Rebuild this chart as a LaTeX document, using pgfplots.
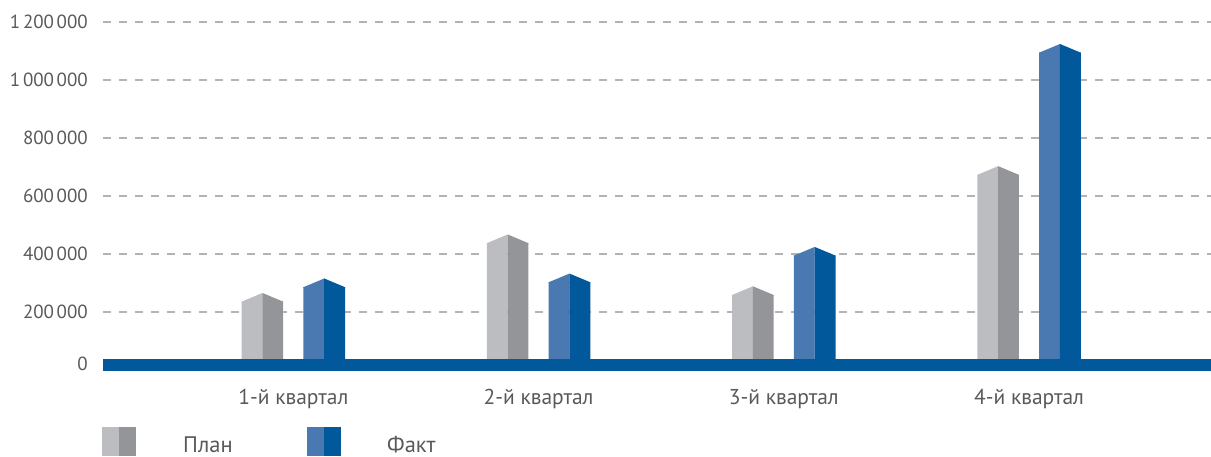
\documentclass[border=0pt]{standalone}
\usepackage{pgfplots}
\pgfplotsset{compat=1.18}
\usepackage{pgfplotstable}
\usepackage{fontspec}
\setmainfont{PT Sans}
\definecolor{planL}{HTML}{BCBDC1}
\definecolor{planD}{HTML}{939598}
\definecolor{faktL}{HTML}{4A79B1}
\definecolor{faktD}{HTML}{01589B}
\definecolor{gridc}{HTML}{B3B3B3}
\definecolor{txt}{HTML}{595959}
\pgfplotstableread{
x plan fakt
1 234000 284000
2 436000 301000
3 257000 393000
4 672000 1094000
}\data
\pgfdeclareplotmark{roofL}{%
 \pgfpathmoveto{\pgfqpoint{-20.8pt}{-0.6pt}}%
 \pgfpathlineto{\pgfqpoint{-20.8pt}{0pt}}%
 \pgfpathlineto{\pgfqpoint{0pt}{8.7pt}}%
 \pgfpathlineto{\pgfqpoint{0pt}{-0.6pt}}%
 \pgfpathclose\pgfusepathqfill}
\pgfdeclareplotmark{roofR}{%
 \pgfpathmoveto{\pgfqpoint{20.8pt}{-0.6pt}}%
 \pgfpathlineto{\pgfqpoint{20.8pt}{0pt}}%
 \pgfpathlineto{\pgfqpoint{0pt}{8.7pt}}%
 \pgfpathlineto{\pgfqpoint{0pt}{-0.6pt}}%
 \pgfpathclose\pgfusepathqfill}
\begin{document}
\begin{tikzpicture}[x=1pt,y=1pt]
\begin{axis}[
  at={(103pt,86.6pt)}, anchor=south west,
  scale only axis, width=1108pt, height=347.4pt,
  xmin=0.2239, xmax=4.742, ymin=0, ymax=1200000,
  clip=false,
  axis line style={draw=none},
  major tick length=0pt,
  xtick={1,2,3,4},
  xticklabels={1-й квартал,2-й квартал,3-й квартал,4-й квартал},
  ytick={200000,400000,600000,800000,1000000,1200000},
  extra y ticks={17600}, extra y tick labels={0},
  extra y tick style={grid=none},
  ymajorgrids,
  major grid style={gridc, line width=2pt, dash pattern=on 8pt off 8pt},
  scaled y ticks=false,
  /pgf/number format/.cd, fixed, 1000 sep={\hspace{0.14em}}, assume math mode=true,
  /pgfplots/.cd,
  ticklabel style={text=txt},
  yticklabel style={font=\fontsize{19}{22}\selectfont, anchor=east, inner sep=0pt, xshift=-15pt},
  xticklabel style={font=\fontsize{21.5}{24}\selectfont, anchor=base, inner sep=0pt, yshift=-34.6pt},
]
% bodies
\addplot[ybar, bar width=0.0849, bar shift=-0.16845, fill=planL, draw=none] table[x=x,y=plan]{\data};
\addplot[ybar, bar width=0.0849, bar shift=-0.08355, fill=planD, draw=none] table[x=x,y=plan]{\data};
\addplot[ybar, bar width=0.0849, bar shift=0.08355, fill=faktL, draw=none] table[x=x,y=fakt]{\data};
\addplot[ybar, bar width=0.0849, bar shift=0.16845, fill=faktD, draw=none] table[x=x,y=fakt]{\data};
% roofs
\addplot[only marks, mark=roofL, color=planL, fill=planL] table[x expr=\thisrow{x}-0.126, y=plan]{\data};
\addplot[only marks, mark=roofR, color=planD, fill=planD] table[x expr=\thisrow{x}-0.126, y=plan]{\data};
\addplot[only marks, mark=roofL, color=faktL, fill=faktL] table[x expr=\thisrow{x}+0.126, y=fakt]{\data};
\addplot[only marks, mark=roofR, color=faktD, fill=faktD] table[x expr=\thisrow{x}+0.126, y=fakt]{\data};
% baseline band
\addplot[fill=faktD, draw=none] coordinates {(0.2239,-4500) (4.742,-4500) (4.742,34900) (0.2239,34900)} -- cycle;
\end{axis}
\pgfresetboundingbox
\path[use as bounding box] (0,0) rectangle (1211,456);
% legend
\fill[planL] (102,0) rectangle (119,29);
\fill[planD] (119,0) rectangle (136,29);
\fill[faktL] (307,0) rectangle (324,29);
\fill[faktD] (324,0) rectangle (341,29);
\node[anchor=base west, inner sep=0pt, text=txt, font=\fontsize{22.5}{26}\selectfont] at (183,4) {План};
\node[anchor=base west, inner sep=0pt, text=txt, font=\fontsize{22.5}{26}\selectfont] at (387,4) {Факт};
\end{tikzpicture}
\end{document}
